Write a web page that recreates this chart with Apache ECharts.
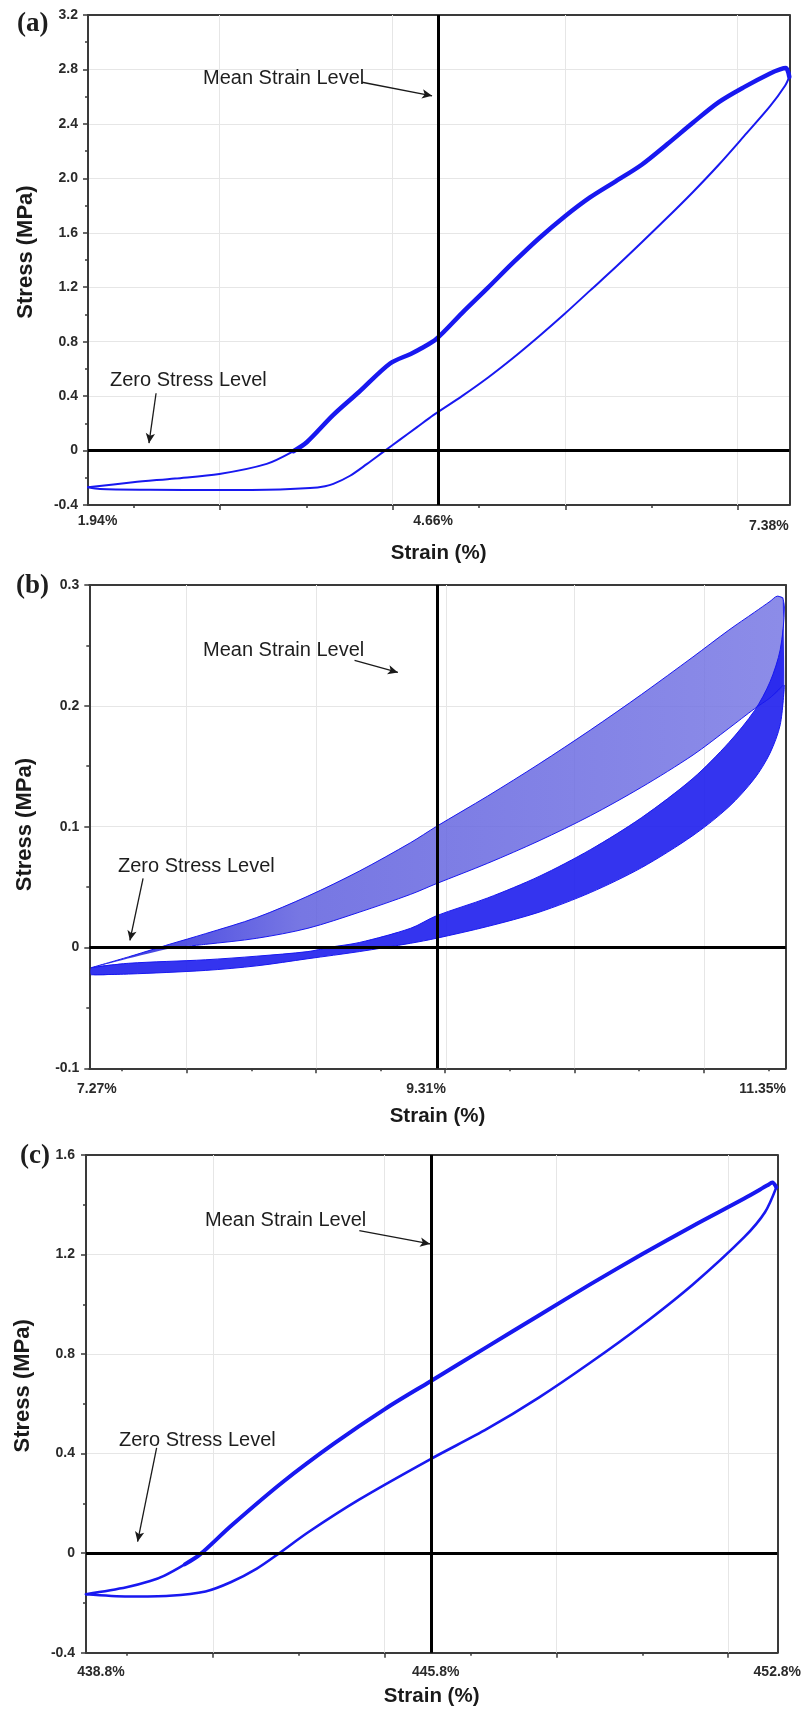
<!DOCTYPE html>
<html>
<head>
<meta charset="utf-8">
<script src="https://cdn.jsdelivr.net/npm/echarts/dist/echarts.min.js"></script>
<style>
  html, body { margin: 0; padding: 0; background: #ffffff; }
  #chart { width: 805px; height: 1711px; }
</style>
</head>
<body>
<div id="chart"></div>
<script>
// ---------------- DATA : panel (a) ----------------
const aUpper = [[1.94,-0.27],[2.289,-0.233],[2.615,-0.205],[2.959,-0.172],[3.326,-0.098],[3.533,-0.005],[3.637,0.061],[3.841,0.26],[4.042,0.43],[4.283,0.64],[4.443,0.71],[4.523,0.75],[4.642,0.82],[4.841,1.01],[5.041,1.195],[5.237,1.38],[5.439,1.56],[5.638,1.72],[5.834,1.86],[6.036,1.98],[6.235,2.10],[6.432,2.25],[6.634,2.41],[6.833,2.56],[7.029,2.67],[7.231,2.77],[7.308,2.80],[7.355,2.81],[7.38,2.745]];
const aThickFrom = 3.533;   // upper branch is a thick band (overlapping cycles) from here on
const aLower = [[1.94,-0.27],[2.033,-0.283],[2.421,-0.288],[2.956,-0.29],[3.430,-0.286],[3.662,-0.276],[3.779,-0.262],[3.843,-0.245],[3.973,-0.185],[4.102,-0.10],[4.231,-0.01],[4.360,0.08],[4.490,0.17],[4.619,0.26],[4.841,0.40],[5.041,0.535],[5.237,0.68],[5.439,0.84],[5.638,1.005],[5.834,1.175],[6.036,1.35],[6.236,1.53],[6.432,1.71],[6.633,1.90],[6.833,2.10],[7.029,2.31],[7.231,2.53],[7.347,2.68],[7.38,2.745]];
const aXLabelVals = [1.94, 4.66, 7.38];
const aXLabels = ['1.94%', '4.66%', '7.38%'];
const aXMajor = [2.964, 4.304, 5.644, 6.984];
const aXMinor = [2.294, 3.634, 4.974, 6.314];
const aYLabels = ['-0.4','0','0.4','0.8','1.2','1.6','2.0','2.4','2.8','3.2'];
const aMean = 4.66;
const aArrowMean = [[4.066, 2.706], [4.609, 2.606]];
const aArrowZero = [[2.468, 0.421], [2.413, 0.054]];

// ---------------- DATA : panel (b) ----------------
const bUpperTop = [[7.282,-0.0167],[7.499,-0.0078],[7.649,-0.0013],[7.739,0.0026],[7.950,0.0114],[8.251,0.0248],[8.551,0.0425],[8.852,0.0632],[9.153,0.0868],[9.303,0.1001],[9.604,0.1253],[9.905,0.1519],[10.205,0.1799],[10.506,0.2095],[10.807,0.2405],[11.017,0.2627],[11.168,0.2775],[11.258,0.2864],[11.303,0.2908],[11.333,0.2893]];
const bUpperBottom = [[7.769,0.0],[7.950,0.0026],[8.251,0.0076],[8.551,0.0159],[8.852,0.0292],[9.153,0.0440],[9.303,0.0528],[9.604,0.0697],[9.905,0.0883],[10.205,0.1090],[10.506,0.1327],[10.807,0.1593],[11.017,0.1814],[11.168,0.1977],[11.258,0.2066],[11.333,0.2169]];
const bLowerTop = [[7.282,-0.0167],[7.499,-0.0131],[7.950,-0.0102],[8.251,-0.0072],[8.551,-0.0034],[8.672,0.0],[8.852,0.0041],[9.153,0.0159],[9.303,0.0262],[9.604,0.0410],[9.905,0.0588],[10.205,0.0809],[10.506,0.1075],[10.807,0.1400],[11.017,0.1696],[11.168,0.1962],[11.258,0.2198],[11.318,0.2465],[11.342,0.2819],[11.333,0.2893]];
const bLowerBottom = [[7.282,-0.0226],[7.499,-0.0220],[7.950,-0.0190],[8.251,-0.0152],[8.551,-0.0093],[8.852,-0.0034],[9.153,0.0035],[9.303,0.0076],[9.604,0.0174],[9.905,0.0292],[10.205,0.0454],[10.506,0.0661],[10.807,0.0927],[11.017,0.1164],[11.168,0.1400],[11.258,0.1608],[11.318,0.1844],[11.342,0.2169]];
const bXLabelVals = [7.27, 9.31, 11.35];
const bXLabels = ['7.27%', '9.31%', '11.35%'];
const bXMajor = [7.841, 8.598, 9.355, 10.112, 10.869];
const bXMinor = [7.463, 8.220, 8.977, 9.734, 10.491, 11.248];
const bYLabels = ['-0.1','0','0.1','0.2','0.3'];
const bMean = 9.31;
const bArrowMean = [[8.824, 0.2376], [9.078, 0.2276]];
const bArrowZero = [[7.585, 0.0571], [7.508, 0.0058]];

// ---------------- DATA : panel (c) ----------------
const cUpper = [[438.80,-0.165],[439.62,-0.137],[440.10,-0.112],[440.39,-0.09],[440.80,-0.045],[441.11,-0.005],[441.74,0.11],[442.78,0.285],[443.82,0.44],[444.86,0.58],[445.77,0.69],[446.93,0.83],[447.97,0.955],[449.01,1.08],[450.05,1.20],[451.09,1.315],[452.13,1.425],[452.60,1.478],[452.70,1.489],[452.78,1.47]];
const cThickFrom = 440.80;
const cLower = [[438.80,-0.165],[439.66,-0.174],[440.49,-0.171],[441.22,-0.154],[441.74,-0.116],[442.26,-0.062],[442.68,-0.005],[443.30,0.084],[444.33,0.215],[445.77,0.377],[446.93,0.50],[447.97,0.625],[449.01,0.765],[450.05,0.915],[451.09,1.08],[452.13,1.27],[452.55,1.37],[452.78,1.47]];
const cXLabelVals = [438.8, 445.8, 452.8];
const cXLabels = ['438.8%', '445.8%', '452.8%'];
const cXMajor = [441.366, 444.846, 448.326, 451.806];
const cXMinor = [439.626, 443.106, 446.586, 450.066];
const cYLabels = ['-0.4','0','0.4','0.8','1.2','1.6'];
const cMean = 445.8;
const cArrowMean = [[444.335, 1.296], [445.77, 1.2425]];
const cArrowZero = [[440.23, 0.423], [439.845, 0.046]];

// ---------------- STYLE / LAYOUT ----------------
const FONT = "'Liberation Sans', Arial, sans-serif";
const SERIF = "'Liberation Serif', 'Times New Roman', serif";
const BLUE = '#1818f0';
const AXIS_COL = '#3a3a3a';
const GRID_COL = '#e6e6e6';

const panels = [
  { grid: {left: 88, top: 15, width: 701.3, height: 490},
    xMin: 1.94, xMax: 7.38, yMin: -0.4, yMax: 3.2, yInt: 0.4,
    xLabelVals: aXLabelVals, xLabels: aXLabels, major: aXMajor, minor: aXMinor, yLabels: aYLabels,
    mean: aMean, arrows: [aArrowMean, aArrowZero],
    xLabelMargin: 9, yLabelMargin: 10, labelPads: [[0,0,0,19],[0,11,0,0],[5,41,0,0]],
    xNameGap: 48, yNameGap: 62, yNamePad: [0,0,0,16] },
  { grid: {left: 89.3, top: 585, width: 696.4, height: 483.3},
    xMin: 7.27, xMax: 11.35, yMin: -0.1, yMax: 0.3, yInt: 0.1,
    xLabelVals: bXLabelVals, xLabels: bXLabels, major: bXMajor, minor: bXMinor, yLabels: bYLabels,
    mean: bMean, arrows: [bArrowMean, bArrowZero],
    xLabelMargin: 14, yLabelMargin: 10, labelPads: [[0,0,0,15],[0,23,0,0],[0,46,0,0]],
    xNameGap: 48, yNameGap: 64, yNamePad: [0,0,0,4] },
  { grid: {left: 86, top: 1155, width: 691.3, height: 497.7},
    xMin: 438.8, xMax: 452.8, yMin: -0.4, yMax: 1.6, yInt: 0.4,
    xLabelVals: cXLabelVals, xLabels: cXLabels, major: cXMajor, minor: cXMinor, yLabels: cYLabels,
    mean: cMean, arrows: [cArrowMean, cArrowZero],
    xLabelMargin: 12, yLabelMargin: 11, labelPads: [[0,0,0,30],[0,0,0,8],[0,0,0,0]],
    xNameGap: 44, yNameGap: 63, yNamePad: [0,0,0,36] }
];

const texts = [
  {t: '(a)', x: 17, y: 24, font: 'bold 27px ' + SERIF},
  {t: 'Mean Strain Level', x: 203, y: 78, font: '20px ' + FONT},
  {t: 'Zero Stress Level', x: 110, y: 380, font: '20px ' + FONT},
  {t: '(b)', x: 16, y: 586, font: 'bold 27px ' + SERIF},
  {t: 'Mean Strain Level', x: 203, y: 650, font: '20px ' + FONT},
  {t: 'Zero Stress Level', x: 118, y: 866, font: '20px ' + FONT},
  {t: '(c)', x: 20, y: 1156, font: 'bold 27px ' + SERIF},
  {t: 'Mean Strain Level', x: 205, y: 1220, font: '20px ' + FONT},
  {t: 'Zero Stress Level', x: 119, y: 1440, font: '20px ' + FONT}
];

function nearestIndex(arr, v) {
  let best = 0, bd = Infinity;
  arr.forEach((a, i) => { const d = Math.abs(a - v); if (d < bd) { bd = d; best = i; } });
  return best;
}

const grids = [], xAxes = [], yAxes = [], series = [];
const tickLabelStyle = {fontFamily: FONT, fontSize: 14, fontWeight: 'bold', color: '#2a2a2a'};
const lineSt = {color: AXIS_COL, width: 2};
const nameStyle = {fontFamily: FONT, fontWeight: 'bold', color: '#1a1a1a', verticalAlign: 'middle'};

panels.forEach((p, i) => {
  grids.push(Object.assign({containLabel: false}, p.grid));
  const xi = xAxes.length, yi = yAxes.length;
  const rich = {};
  p.labelPads.forEach((pad, k) => { rich['t' + k] = Object.assign({padding: pad}, tickLabelStyle); });
  xAxes.push({
    type: 'value', gridIndex: i, position: 'bottom', min: p.xMin, max: p.xMax,
    axisLine: {show: true, onZero: false, lineStyle: lineSt},
    axisTick: {show: true, customValues: p.major, length: 5, lineStyle: {color: AXIS_COL, width: 1.5}},
    axisLabel: {show: true, customValues: p.xLabelVals, margin: p.xLabelMargin, showMinLabel: true, showMaxLabel: true,
      formatter: v => { const k = nearestIndex(p.xLabelVals, v); return '{t' + k + '|' + p.xLabels[k] + '}'; },
      rich: rich},
    splitLine: {show: false},
    name: 'Strain (%)', nameLocation: 'middle', nameGap: p.xNameGap,
    nameTextStyle: Object.assign({fontSize: 20.5}, nameStyle)
  });
  xAxes.push({
    type: 'value', gridIndex: i, position: 'bottom', min: p.xMin, max: p.xMax,
    axisLine: {show: false, onZero: false},
    axisTick: {show: true, customValues: p.minor, length: 3, lineStyle: {color: AXIS_COL, width: 1.5}},
    axisLabel: {show: false}, splitLine: {show: false}
  });
  xAxes.push({
    type: 'value', gridIndex: i, position: 'top', min: p.xMin, max: p.xMax,
    axisLine: {show: true, onZero: false, lineStyle: lineSt},
    axisTick: {show: false}, axisLabel: {show: false}, splitLine: {show: false}
  });
  yAxes.push({
    type: 'value', gridIndex: i, position: 'left', min: p.yMin, max: p.yMax, interval: p.yInt,
    axisLine: {show: true, onZero: false, lineStyle: lineSt},
    axisTick: {show: true, length: 5, lineStyle: {color: AXIS_COL, width: 1.5}},
    minorTick: {show: true, splitNumber: 2, length: 3, lineStyle: {color: AXIS_COL, width: 1.5}},
    axisLabel: Object.assign({margin: p.yLabelMargin,
      formatter: v => p.yLabels[Math.round((v - p.yMin) / p.yInt)]}, tickLabelStyle),
    splitLine: {show: true, lineStyle: {color: GRID_COL, width: 1}},
    name: 'Stress (MPa)', nameLocation: 'middle', nameGap: p.yNameGap,
    nameTextStyle: Object.assign({fontSize: 22, padding: p.yNamePad}, nameStyle)
  });
  yAxes.push({
    type: 'value', gridIndex: i, position: 'right', min: p.yMin, max: p.yMax, interval: p.yInt,
    axisLine: {show: true, onZero: false, lineStyle: lineSt},
    axisTick: {show: false}, axisLabel: {show: false}, splitLine: {show: false}
  });

  // vertical grid lines (behind curves)
  series.push({
    type: 'line', xAxisIndex: xi, yAxisIndex: yi, data: [], silent: true,
    markLine: {z: 1, silent: true, symbol: ['none', 'none'], label: {show: false}, animation: false,
      lineStyle: {color: GRID_COL, width: 1, type: 'solid'},
      emphasis: {disabled: true},
      data: p.major.map(v => ({xAxis: v}))}
  });
  // zero stress line, mean strain line, annotation arrows
  const refData = [
    {yAxis: 0, lineStyle: {color: '#000', width: 3, type: 'solid'}},
    {xAxis: p.mean, lineStyle: {color: '#000', width: 3, type: 'solid'}}
  ];
  p.arrows.forEach(a => {
    refData.push([
      {coord: a[0], symbol: 'none', lineStyle: {color: '#1a1a1a', width: 1.3, type: 'solid'}},
      {coord: a[1], symbol: 'arrow', symbolSize: [7, 10]}
    ]);
  });
  series.push({
    type: 'line', xAxisIndex: xi, yAxisIndex: yi, data: [], silent: true, z: 6,
    markLine: {z: 6, silent: true, symbol: ['none', 'none'], label: {show: false}, animation: false,
      emphasis: {disabled: true}, data: refData}
  });
});

function curve(data, xi, yi, width, z) {
  return {type: 'line', xAxisIndex: xi, yAxisIndex: yi, data: data, showSymbol: false, symbol: 'none',
    smooth: 0.3, silent: true, z: z || 3,
    lineStyle: {color: BLUE, width: width, cap: 'round', join: 'round'}};
}
function band(edgeA, edgeB, xi, yi, fill, z) {
  const pts = edgeA.concat(edgeB.slice().reverse());
  return {type: 'custom', xAxisIndex: xi, yAxisIndex: yi, data: [pts[0]], silent: true, z: z,
    encode: {x: 0, y: 1},
    renderItem: (params, api) => {
      const points = pts.map(pt => api.coord(pt));
      return {type: 'polygon', shape: {points: points, smooth: 0.25}, style: {fill: fill, stroke: null}};
    }};
}

// panel (a)
series.push(curve(aLower, 0, 0, 2));
series.push(curve(aUpper, 0, 0, 2));
series.push(curve(aUpper.filter(d => d[0] >= aThickFrom), 0, 0, 4.5, 4));
// panel (b)
series.push(band(bUpperTop, bUpperBottom, 3, 2,
  new echarts.graphic.LinearGradient(0, 0, 1, 0, [
    {offset: 0, color: 'rgba(40,40,225,0.95)'},
    {offset: 0.3, color: 'rgba(95,95,222,0.85)'},
    {offset: 1, color: 'rgba(120,120,228,0.85)'}]), 2));
series.push(band(bLowerTop, bLowerBottom, 3, 2, 'rgba(35,35,238,0.92)', 3));
series.push(curve(bUpperTop, 3, 2, 1));
series.push(curve(bUpperBottom, 3, 2, 1));
series.push(curve(bLowerTop, 3, 2, 1));
series.push(curve(bLowerBottom, 3, 2, 1));
// panel (c)
series.push(curve(cLower, 6, 4, 2.6));
series.push(curve(cUpper, 6, 4, 2.6));
series.push(curve(cUpper.filter(d => d[0] >= cThickFrom), 6, 4, 4, 4));

const chart = echarts.init(document.getElementById('chart'), null, {renderer: 'canvas', width: 805, height: 1711});
chart.setOption({
  backgroundColor: '#ffffff',
  animation: false,
  grid: grids,
  xAxis: xAxes,
  yAxis: yAxes,
  series: series,
  graphic: texts.map(o => ({type: 'text', x: o.x, y: o.y, silent: true, z: 10,
    style: {text: o.t, font: o.font, fill: '#1e1e1e', align: 'left', verticalAlign: 'middle'}}))
});
</script>
</body>
</html>
